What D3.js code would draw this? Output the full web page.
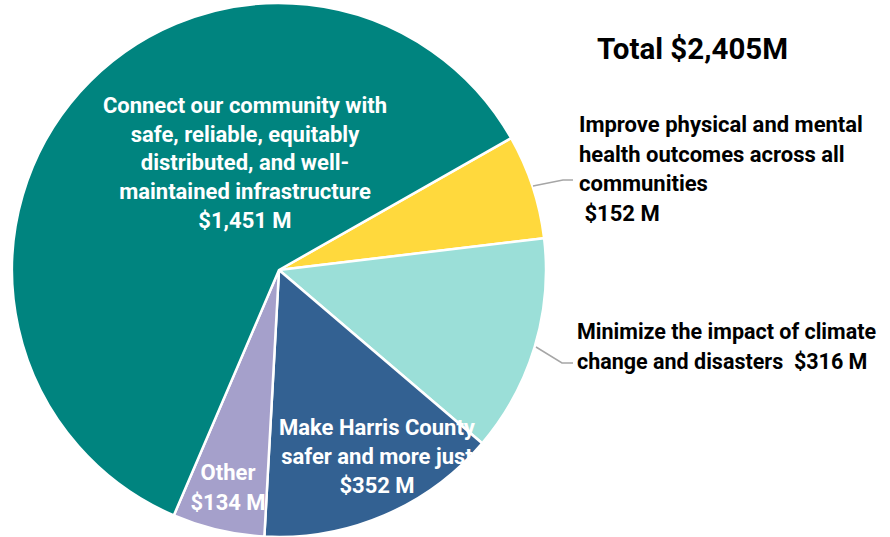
<!DOCTYPE html>
<html><head><meta charset="utf-8">
<script src="https://cdn.jsdelivr.net/npm/d3@7"></script>
<style>body{margin:0;background:#fff}svg{display:block}text{font-family:Roboto,"Open Sans",sans-serif;font-weight:700}</style>
</head><body><svg id="c" width="890" height="537"></svg>
<script>
const categories = ["Improve physical and mental health outcomes across all communities","Minimize the impact of climate change and disasters","Make Harris County safer and more just","Other","Connect our community with safe, reliable, equitably distributed, and well-maintained infrastructure"];
const values = [152, 316, 352, 134, 1451];
const colors = ["#FFD93D","#9BDFD8","#336192","#A5A0CB","#00847F"];
const totalLabel = "Total $2,405M";

const svg = d3.select("#c");
const cx = 279, cy = 270, R = 267;
const a0 = 60.4 * Math.PI / 180;
const pie = d3.pie().sort(null).startAngle(a0).endAngle(a0 + 2*Math.PI);
const arc = d3.arc().innerRadius(0).outerRadius(R);
const arcs = pie(values);
const g = svg.append("g").attr("transform", `translate(${cx},${cy})`);
g.selectAll("path").data(arcs).join("path")
  .attr("d", arc).attr("fill", (d,i)=>colors[i])
  .attr("stroke", "#fff").attr("stroke-width", 2.5).attr("stroke-linejoin","round");

function label(lines, x, y0, dy, anchor, fill, size){
  const t = svg.append("text").attr("text-anchor", anchor).attr("fill", fill).style("font-size", size+"px");
  lines.forEach((l,i)=>t.append("tspan").attr("x", x).attr("y", y0 + i*dy).attr("xml:space","preserve").text(l));
}
// inner labels
label(["Connect our community with","safe, reliable, equitably","distributed, and well-","maintained infrastructure","$1,451 M"], 245, 113, 28.7, "middle", "#fff", 22);
label(["Make Harris County","safer and more just","$352 M"], 377, 435, 29, "middle", "#fff", 22);
label(["Other","$134 M"], 228, 480, 30, "middle", "#fff", 22);
// outer labels
label(["Improve physical and mental","health outcomes across all","communities"," $152 M"], 579, 132, 29.5, "start", "#000", 22);
label(["Minimize the impact of climate","change and disasters  $316 M"], 577, 339, 30, "start", "#000", 21.5);
label([totalLabel], 597, 59, 0, "start", "#000", 29.5);

// leader lines
const line = d3.line();
svg.append("path").attr("d", line([[533,186],[563,180],[573,180]])).attr("fill","none").attr("stroke","#A6A6A6").attr("stroke-width",1.5);
svg.append("path").attr("d", line([[536,347],[562,363],[573,363]])).attr("fill","none").attr("stroke","#A6A6A6").attr("stroke-width",1.5);
</script></body></html>
